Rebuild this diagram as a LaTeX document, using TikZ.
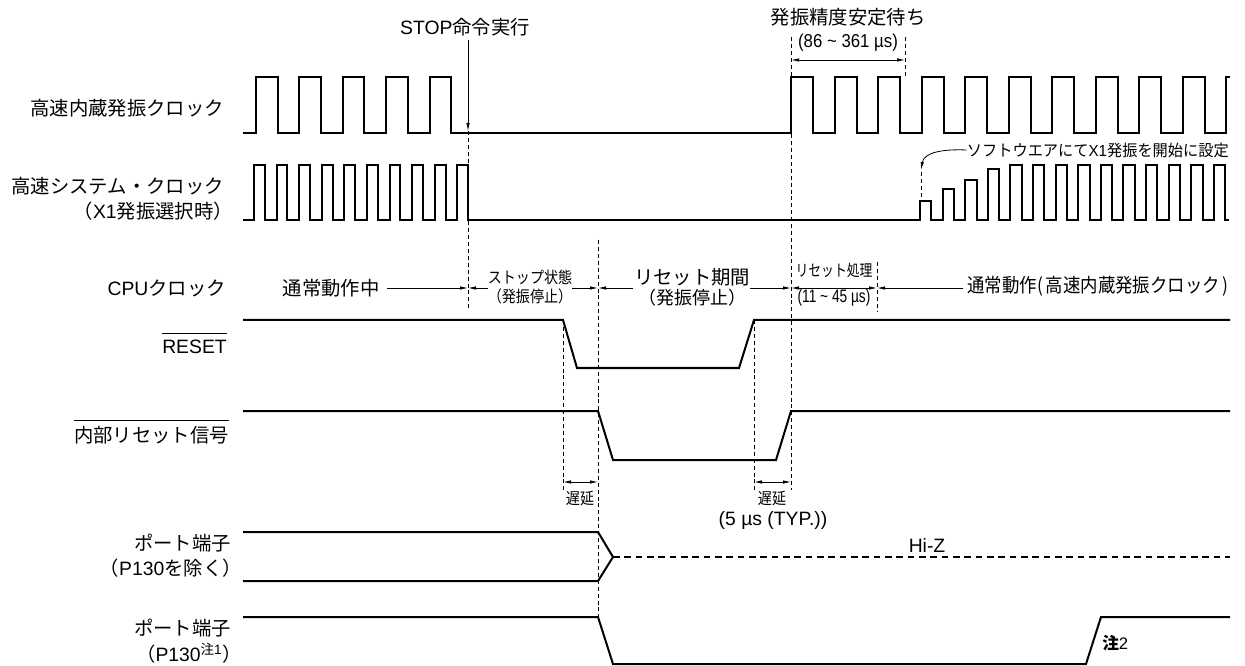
\documentclass[tikz,border=0pt]{standalone}
\usepackage{fontspec}
\usepackage{graphicx}
\setmainfont{Noto Sans CJK JP}
\newfontfamily\lat{Liberation Sans}
\usetikzlibrary{arrows.meta}
\tikzset{
 sig/.style={line width=1.5pt, line join=miter},
 tdash/.style={line width=0.6pt, dash pattern=on 3pt off 2.2pt},
 hiz/.style={line width=1.5pt, dash pattern=on 5pt off 3.5pt},
 arr/.style={line width=0.6pt, -{Latex[length=6pt,width=2.6pt]}},
 darr/.style={line width=0.6pt, {Latex[length=6pt,width=2.6pt]}-{Latex[length=6pt,width=2.6pt]}},
 lbl/.style={inner sep=0pt, font=\fontsize{14.5pt}{16pt}\selectfont},
 sml/.style={inner sep=0pt, font=\fontsize{12pt}{13pt}\selectfont},
}
\begin{document}
\begin{tikzpicture}[x=0.75pt,y=-0.75pt]
\useasboundingbox (0,0) rectangle (1245,666);

% ---------- row labels ----------
\node[lbl, anchor=east] (l1) at (224,108) {高速内蔵発振クロック};
\node[lbl, anchor=east] (l2) at (224,186) {高速システム・クロック};
\node[lbl, anchor=east] (l2b) at (233,211) {（{\lat X1}発振選択時）};
\node[lbl, anchor=east] (l3) at (226,288) {{\lat CPU}クロック};
\node[lbl, anchor=east] (l4) at (227,347) {\lat RESET};
\draw[line width=0.6pt] (l4.west |- 0,333) -- (l4.east |- 0,333);
\node[lbl, anchor=east] (l5) at (229,435) {内部リセット信号};
\draw[line width=0.6pt] (l5.west |- 0,420) -- (l5.east |- 0,420);
\node[lbl, anchor=east] (l6) at (231,543) {ポート端子};
\node[lbl, anchor=east] (l6b) at (242,568) {（{\lat P130}を除く）};
\node[lbl, anchor=east] (l7) at (231,628) {ポート端子};
\node[lbl, anchor=east] (l7b) at (242,653) {（{\lat P130}\textsuperscript{注{\lat 1}}）};

% ---------- top annotations ----------
\node[lbl] (stop) at (465,27) {{\lat STOP}命令実行};
\coordinate (stoptop) at (468,40);
\coordinate (stoptip) at (468,131);
\draw[arr] (stoptop) -- (stoptip);

\node[lbl] (osc) at (848,17) {発振精度安定待ち};
\node[inner sep=0pt, font=\fontsize{14pt}{15pt}\selectfont] (oscr) at (848,43) {\scalebox{0.9}[1]{\lat (86 \char"7E{} 361 µs)}};
\coordinate (wa) at (791,60);
\coordinate (wb) at (905,60);
\draw[darr] (wa) -- (wb);

\node[sml, anchor=east] (swn) at (1229,150) {\scalebox{0.95}[1]{ソフトウエアにて{\lat X1}発振を開始に設定}};
\coordinate (swtip) at (921,170);
\draw[arr] (swn.west) .. controls (944,149) and (924,152) .. (swtip);

% ---------- dashed guide lines ----------
\draw[tdash] (468,131) -- (468,308);
\draw[tdash] (598,240) -- (598,617);
\draw[tdash] (563,320) -- (563,490);
\draw[tdash] (754,320) -- (754,490);
\draw[tdash] (791,37) -- (791,490);
\draw[tdash] (905,37) -- (905,77);
\draw[tdash] (877,262) -- (877,312);
\draw[tdash] (921,172) -- (921,201);

% ---------- clock 1 ----------
\draw[sig] (243,133)
  \foreach \r in {256,299.4,342.8,386.2,429.6} { -- (\r,133) -- (\r,77) -- ({\r+21.5},77) -- ({\r+21.5},133) }
  \foreach \k in {0,...,9} { -- ({791+43.5*\k},133) -- ({791+43.5*\k},77) -- ({813+43.5*\k},77) -- ({813+43.5*\k},133) }
  -- (1226,133) -- (1226,77) -- (1230,77);

% ---------- clock 2 ----------
\draw[sig] (243,220)
  \foreach \k in {0,...,9} { -- ({254+22.6*\k},220) -- ({254+22.6*\k},165) -- ({264.8+22.6*\k},165) -- ({264.8+22.6*\k},220) }
  -- (920,220) -- (920,201) -- (931.3,201) -- (931.3,220)
  -- (942.6,220) -- (942.6,189) -- (953.9,189) -- (953.9,220)
  -- (965.2,220) -- (965.2,180) -- (976.5,180) -- (976.5,220)
  -- (987.8,220) -- (987.8,169) -- (999.1,169) -- (999.1,220)
  \foreach \k in {4,...,13} { -- ({920+22.6*\k},220) -- ({920+22.6*\k},165) -- ({931.3+22.6*\k},165) -- ({931.3+22.6*\k},220) }
  -- (1229,220);

% ---------- CPU clock row ----------
\node[lbl] (n1) at (331,288) {通常動作中};
\coordinate (s1) at (387,288);
\coordinate (p468) at (468,288);
\draw[arr] (s1) -- (p468);
\node[sml] (st) at (530,277) {\scalebox{0.88}[1]{ストップ状態}};
\node[sml] (st2) at (530,296) {\scalebox{0.88}[1]{（発振停止）}};
\coordinate (s2) at (488,288);
\draw[arr] (s2) -- (p468);
\coordinate (s3) at (572,288);
\coordinate (p598) at (598,288);
\draw[arr] (s3) -- (p598);
\node[lbl] (rp) at (692,277) {リセット期間};
\node[inner sep=0pt, font=\fontsize{13.5pt}{15pt}\selectfont] (rp2) at (692,298) {（発振停止）};
\coordinate (s4) at (633,288);
\draw[arr] (s4) -- (p598);
\coordinate (s5) at (750,288);
\coordinate (p791) at (791,288);
\draw[arr] (s5) -- (p791);
\coordinate (p877) at (877,288);
\draw[darr] (p791) -- (p877);
\node[sml] (rs) at (834,270) {\scalebox{0.8}[1]{リセット処理}};
\node[inner sep=0pt, font=\fontsize{13.5pt}{15pt}\selectfont] (rs2) at (834,298) {\scalebox{0.76}[1]{\lat (11 \char"7E{} 45 µs)}};
\coordinate (s6) at (963,288);
\draw[arr] (s6) -- (p877);
\node[lbl, anchor=east] (n2) at (1229,286) {\scalebox{0.9}[1]{通常動作(\,高速内蔵発振クロック\,)}};

% ---------- RESET ----------
\draw[sig] (243,320) -- (563,320) -- (577,368) -- (739,368) -- (754,320) -- (1230,320);
% ---------- internal reset ----------
\draw[sig] (243,411) -- (598,411) -- (613,460) -- (776,460) -- (791,411) -- (1230,411);

% delays
\coordinate (d1a) at (563,482);
\coordinate (d1b) at (598,482);
\draw[darr] (d1a) -- (d1b);
\coordinate (d2a) at (754,482);
\coordinate (d2b) at (791,482);
\draw[darr] (d2a) -- (d2b);
\node[sml] (dl1) at (580,498) {\scalebox{0.88}[1]{遅延}};
\node[sml] (dl2) at (772,498) {\scalebox{0.88}[1]{遅延}};
\node[lbl] (typ) at (773,520) {\lat (5 µs (TYP.))};

% ---------- port (except P130) ----------
\draw[sig] (243,532) -- (598,532) -- (613,557) -- (598,581) -- (243,581);
\draw[hiz] (613,557) -- (1230,557);
\node[lbl] (hiz) at (927,545) {\lat Hi-Z};

% ---------- port P130 ----------
\draw[sig] (243,617) -- (598,617) -- (613,664) -- (1086,664) -- (1101,617) -- (1230,617);
\node[inner sep=0pt, font=\fontsize{12.5pt}{14pt}\selectfont, anchor=west] (n2x) at (1102,643) {\textbf{注}{\lat 2}};
\end{tikzpicture}
\end{document}
